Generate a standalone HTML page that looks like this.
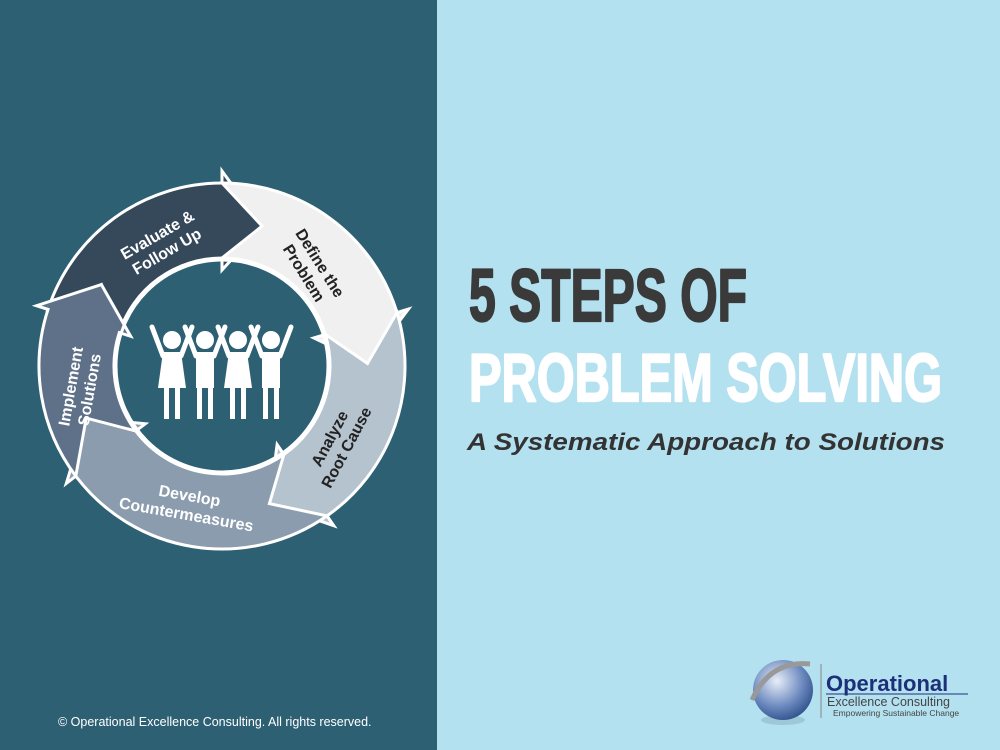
<!DOCTYPE html>
<html><head><meta charset="utf-8"><style>
html,body{margin:0;padding:0;}
body{width:1000px;height:750px;position:relative;overflow:hidden;background:#b3e1f0;font-family:"Liberation Sans",sans-serif;}
#left{position:absolute;left:0;top:0;width:437px;height:750px;background:#2e6074;}
svg{position:absolute;left:0;top:0;}
</style></head><body>
<div id="left"></div>
<svg width="1000" height="750" id="s">
<g id="ring"></g>
<circle cx="222" cy="366" r="106" fill="none" stroke="#fff" stroke-width="3"/>
<g fill="#fff">
 <g id="ppl"></g>
</g>
<g font-family="Liberation Sans, sans-serif" font-weight="bold" font-size="16" text-anchor="middle">
 <text transform="translate(162,243) rotate(-30)" fill="#fff"><tspan x="0" y="-4">Evaluate &amp;</tspan><tspan x="0" y="15">Follow Up</tspan></text>
 <text transform="translate(312,268) rotate(58)" fill="#222"><tspan x="0" y="-4">Define the</tspan><tspan x="0" y="15">Problem</tspan></text>
 <text transform="translate(338,443) rotate(-62)" fill="#222"><tspan x="0" y="-4">Analyze</tspan><tspan x="0" y="15">Root Cause</tspan></text>
 <text transform="translate(188,505) rotate(10)" fill="#fff"><tspan x="0" y="-4">Develop</tspan><tspan x="0" y="15">Countermeasures</tspan></text>
 <text transform="translate(80,388) rotate(-80)" fill="#fff"><tspan x="0" y="-4">Implement</tspan><tspan x="0" y="15">Solutions</tspan></text>
</g>
<g font-family="Liberation Sans Narrow, Liberation Sans, sans-serif" font-weight="bold" stroke-width="2.2" stroke-linejoin="round">
 <text x="469" y="321" font-size="74" fill="#3a3a3a" stroke="#3a3a3a" textLength="278" lengthAdjust="spacingAndGlyphs">5 STEPS OF</text>
 <text x="469" y="401" font-size="68" fill="#fff" stroke="#fff" textLength="473" lengthAdjust="spacingAndGlyphs">PROBLEM SOLVING</text>
</g>
<text x="467" y="450" font-size="24" font-style="italic" font-weight="bold" fill="#333" textLength="478" lengthAdjust="spacingAndGlyphs">A Systematic Approach to Solutions</text>
<text x="58" y="726" font-size="12.5" fill="#fff">© Operational Excellence Consulting.  All rights reserved.</text>
<defs><radialGradient id="gl" cx="0.4" cy="0.35" r="0.7"><stop offset="0" stop-color="#e8eef8"/><stop offset="0.6" stop-color="#6f8cc0"/><stop offset="1" stop-color="#2e4f8c"/></radialGradient></defs>
<ellipse cx="783" cy="720" rx="22" ry="5" fill="#8fb7c8" opacity="0.6"/>
<circle cx="783" cy="690" r="30" fill="url(#gl)"/>
<path d="M752 700 Q770 660 810 664" stroke="#999" stroke-width="5" fill="none"/>
<line x1="821" y1="664" x2="821" y2="718" stroke="#888" stroke-width="1"/>
<text x="826" y="691" font-size="22" font-weight="bold" fill="#1e2f7a">Operational</text>
<line x1="826" y1="694" x2="968" y2="694" stroke="#1e2f7a" stroke-width="1"/>
<text x="827" y="706" font-size="12.5" fill="#444">Excellence Consulting</text>
<text x="833" y="716" font-size="8.5" fill="#444">Empowering Sustainable Change</text>
</svg>
<script>
var cx=222,cy=366,ro=183,ri=108,rm=(ro+ri)/2,ex=12,d=16;
var segs=[[-162,-90,'#36495a'],[-90,-17,'#f0f0f0'],[-17,55,'#b5c3cf'],[55,143,'#8a9cae'],[143,198,'#5e7189']];
function p(r,a){a=a*Math.PI/180;return (cx+r*Math.cos(a)).toFixed(1)+' '+(cy+r*Math.sin(a)).toFixed(1);}
var h='';
segs.forEach(function(s){var a0=s[0],a1=s[1];
var dd='M'+p(ro,a0)+' A'+ro+' '+ro+' 0 0 1 '+p(ro,a1)+' L'+p(ro+ex,a1)+' L'+p(rm,a1+d)+' L'+p(ri-ex,a1)+' L'+p(ri,a1)+' A'+ri+' '+ri+' 0 0 0 '+p(ri,a0)+' L'+p(rm,a0+d)+' Z';
h+='<path d="'+dd+'" fill="'+s[2]+'" stroke="#fff" stroke-width="3" stroke-linejoin="miter"/>';});
document.getElementById('ring').innerHTML=h;
var g='';
[[172,true],[205,false],[238,true],[271,false]].forEach(function(f){var x=f[0];
g+='<circle cx="'+x+'" cy="340" r="9"/>';
if(f[1]){g+='<path d="M'+(x-9)+' 352 L'+(x+9)+' 352 L'+(x+14)+' 388 L'+(x-14)+' 388Z"/>';}
else{g+='<rect x="'+(x-9)+'" y="352" width="18" height="36"/>';}
g+='<rect x="'+(x-8)+'" y="386" width="5" height="33"/><rect x="'+(x+3)+'" y="386" width="5" height="33"/>';
g+='<path d="M'+(x-9)+' 356 L'+(x-20)+' 327" stroke="#fff" stroke-width="5" stroke-linecap="round"/>';
g+='<path d="M'+(x+9)+' 356 L'+(x+20)+' 327" stroke="#fff" stroke-width="5" stroke-linecap="round"/>';});
document.getElementById('ppl').innerHTML=g;
</script>
</body></html>
